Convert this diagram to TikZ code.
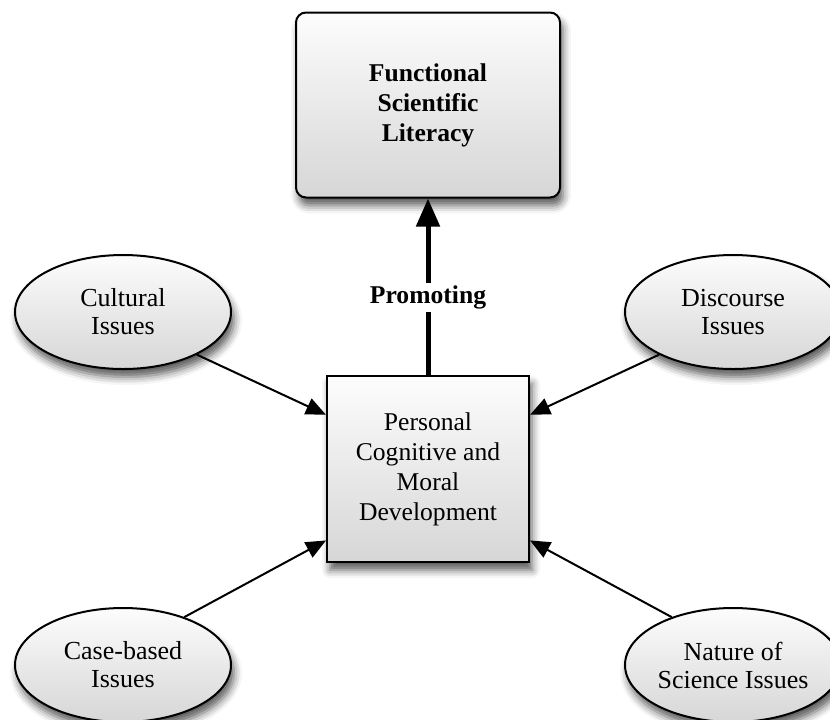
\documentclass[tikz,border=0pt]{standalone}
\usepackage{fontspec}
\setmainfont{Liberation Serif}
\usetikzlibrary{arrows.meta,shapes.geometric,shadows.blur}

\newlength{\du}
\setlength{\du}{0.5pt}

\definecolor{dialinecolor}{rgb}{0.000000, 0.000000, 0.000000}
\definecolor{diafilltop}{rgb}{0.990000, 0.990000, 0.990000}
\definecolor{diafillbottom}{rgb}{0.840000, 0.840000, 0.840000}

\tikzset{
  diashadow/.style={blur shadow={shadow xshift=3\du, shadow yshift=-8\du,
      shadow blur radius=8\du, shadow opacity=65}},
  diabox/.style={rectangle, draw=dialinecolor, line width=2\du,
      top color=diafilltop, bottom color=diafillbottom, diashadow,
      align=center, inner sep=0pt, font=\fontsize{12.8}{15}\selectfont},
  diaissue/.style={ellipse, draw=dialinecolor, line width=2\du,
      top color=diafilltop, bottom color=diafillbottom, diashadow,
      minimum width=216\du, minimum height=114\du, inner sep=0pt,
      align=center, font=\fontsize{13}{14}\selectfont},
  diaarrow/.style={draw=dialinecolor, line width=2\du,
      -{Triangle[length=10pt, width=8.5pt]}},
  diapromote/.style={draw=dialinecolor, line width=5\du,
      -{Triangle[length=14pt, width=11.5pt]}}
}

\begin{document}
\begin{tikzpicture}
\pgftransformxscale{1.000000}
\pgftransformyscale{-1.000000}
\useasboundingbox (0\du,0\du) rectangle (830\du,719\du);
% boxes
\node[diabox, rounded corners=10\du, minimum width=264\du, minimum height=185\du,
  font=\bfseries\fontsize{12.8}{15}\selectfont] (literacy) at (428\du,105\du)
  {Functional\\Scientific\\Literacy};
\node[diabox, minimum width=202\du, minimum height=186\du] (personal) at (428\du,469\du)
  {Personal\\Cognitive and\\Moral\\Development};
% issues
\node[diaissue] (cultural) at (123\du,312\du) {Cultural\\Issues};
\node[diaissue] (discourse) at (733\du,312\du) {Discourse\\Issues};
\node[diaissue] (casebased) at (123\du,665\du) {Case-based\\Issues};
\node[diaissue] (nature) at (733\du,665\du) {Nature of\\Science Issues};
% connectors
\draw[diapromote] (personal) -- node[pos=0.44, fill=white, inner sep=1.5pt,
  font=\bfseries\fontsize{12.8}{15}\selectfont] (promoting) {Promoting} (literacy);
\draw[diaarrow] (cultural.-30) -- (personal.152);
\draw[diaarrow] (discourse.210) -- (personal.28);
\draw[diaarrow] (casebased.38) -- (personal.215);
\draw[diaarrow] (nature.142) -- (personal.325);
\end{tikzpicture}
\end{document}
